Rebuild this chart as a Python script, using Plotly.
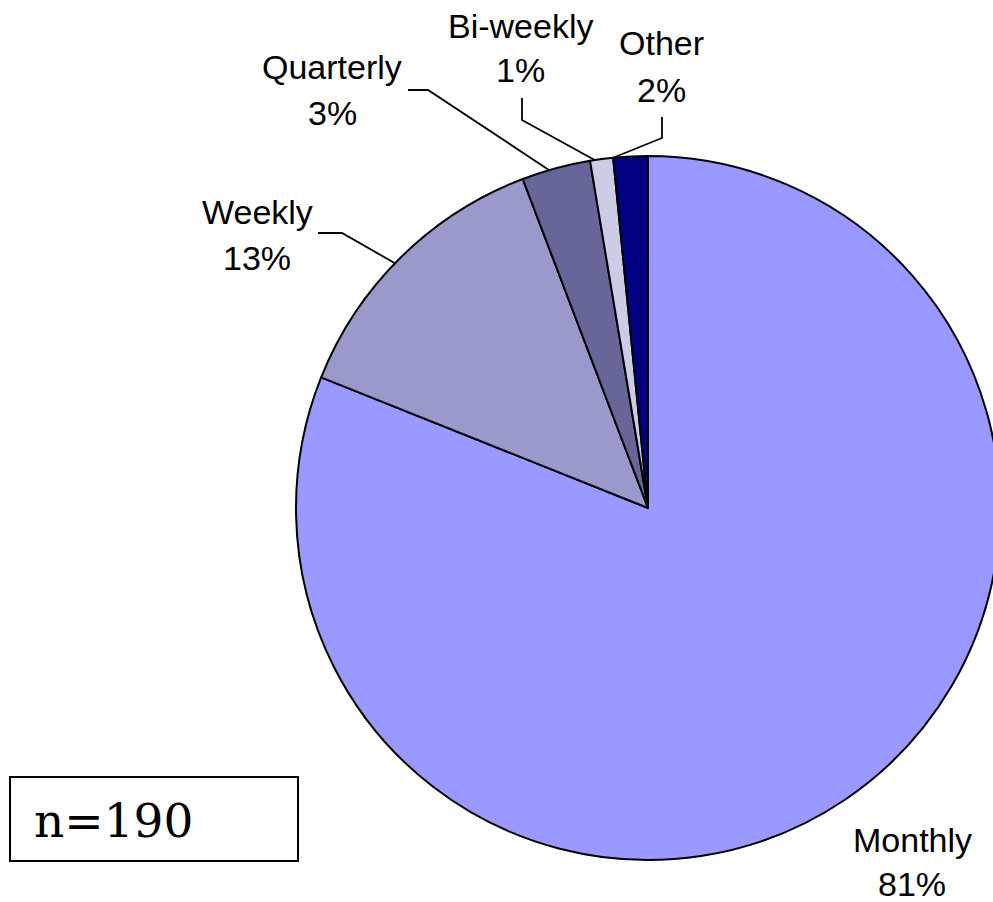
import math
import plotly.graph_objects as go

# ---- data ----
categories = ["Monthly", "Weekly", "Quarterly", "Bi-weekly", "Other"]
counts = [154, 25, 6, 2, 3]          # n = 190
colors = ["#9999FF", "#9999CC", "#666699", "#CCCCE6", "#000080"]
sample_label = "n=190"

W, H = 1000, 902                     # page is 993 wide; pie is clipped at the right like the original
cx, cy, R = 648, 508, 352            # pie centre / radius in pixels

def px(x):
    return x / W

def py(y):
    return 1 - y / H

fig = go.Figure(go.Pie(
    labels=categories,
    values=counts,
    marker=dict(colors=colors, line=dict(color="black", width=2)),
    sort=False,
    direction="clockwise",
    rotation=0,
    textinfo="none",
    hovertemplate="%{label}: %{percent:.0%}<extra></extra>",
    domain=dict(x=[px(cx - R), px(cx + R)], y=[py(cy + R), py(cy - R)]),
    showlegend=False,
))

total = sum(counts)
pcts = [f"{round(100 * c / total)}%" for c in counts]

# label placement (label centre x, first line centre y, second line centre y)
label_pos = {
    "Monthly": (912, 840, 884),
    "Weekly": (257, 212, 258),
    "Quarterly": (332, 67, 113),
    "Bi-weekly": (520, 26, 70),
    "Other": (661, 43, 90),
}
# leader line anchor points (pixel polylines ending at the pie edge)
leader_start = {
    "Weekly": [(318, 233), (342, 233)],
    "Quarterly": [(408, 90), (428, 90)],
    "Bi-weekly": [(522, 98), (522, 120)],
    "Other": [(662, 117), (662, 138)],
}
# fraction of each slice where the leader meets the rim (0 = start, 1 = end)
leader_frac = {"Weekly": 0.47, "Quarterly": 0.4, "Bi-weekly": 0.2, "Other": 0.0}

annotations = []
shapes = []
cum = 0
for cat, c, p in zip(categories, counts, pcts):
    f = leader_frac.get(cat, 0.5)
    ang = (cum + c * f) / total * 2 * math.pi
    cum += c
    lx, y1, y2 = label_pos[cat]
    for txt, yy in ((cat, y1), (p, y2)):
        annotations.append(dict(
            x=px(lx), y=py(yy), xref="paper", yref="paper",
            text=txt, showarrow=False, xanchor="center", yanchor="middle",
            font=dict(family="Liberation Sans, Arial, sans-serif", size=34, color="black"),
        ))
    if cat in leader_start:
        pts = leader_start[cat] + [(cx + R * math.sin(ang), cy - R * math.cos(ang))]
        path = "M " + " L ".join(f"{px(x):.5f},{py(y):.5f}" for x, y in pts)
        shapes.append(dict(type="path", path=path, xref="paper", yref="paper",
                           line=dict(color="black", width=1.8)))

# n=190 box
shapes.append(dict(type="rect", xref="paper", yref="paper",
                   x0=px(10), x1=px(298), y0=py(861), y1=py(777),
                   line=dict(color="black", width=2), fillcolor="white"))
annotations.append(dict(
    x=px(32), y=py(820), xref="paper", yref="paper", text=sample_label,
    showarrow=False, xanchor="left", yanchor="middle",
    font=dict(family="DejaVu Serif, serif", size=47, color="black"),
))

fig.update_layout(
    width=W, height=H,
    margin=dict(l=0, r=0, t=0, b=0),
    paper_bgcolor="white", plot_bgcolor="white",
    annotations=annotations, shapes=shapes,
)

fig.write_html(
    "out.html",
    config={"displayModeBar": False},
    post_script="document.body.style.margin='0';document.body.style.overflow='hidden';",
)
